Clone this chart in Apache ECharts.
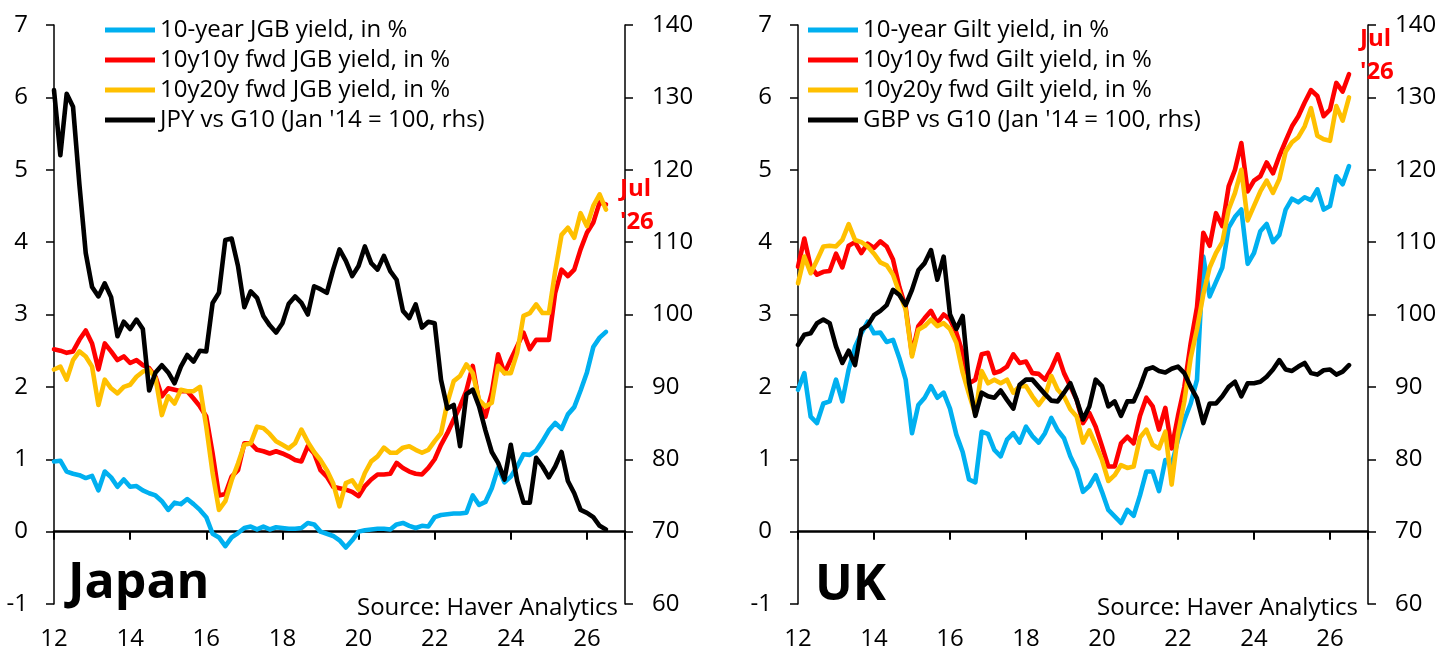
<!DOCTYPE html>
<html><head><meta charset="utf-8">
<script src="https://cdn.jsdelivr.net/npm/echarts@6/dist/echarts.min.js"></script>
<style>html,body{margin:0;padding:0;background:#fff}#c{width:1446px;height:662px}</style>
</head><body><div id="c"></div>
<script>
// bimonthly observation dates
const months = [
 '2012-01','2012-03','2012-05','2012-07','2012-09','2012-11',
 '2013-01','2013-03','2013-05','2013-07','2013-09','2013-11',
 '2014-01','2014-03','2014-05','2014-07','2014-09','2014-11',
 '2015-01','2015-03','2015-05','2015-07','2015-09','2015-11',
 '2016-01','2016-03','2016-05','2016-07','2016-09','2016-11',
 '2017-01','2017-03','2017-05','2017-07','2017-09','2017-11',
 '2018-01','2018-03','2018-05','2018-07','2018-09','2018-11',
 '2019-01','2019-03','2019-05','2019-07','2019-09','2019-11',
 '2020-01','2020-03','2020-05','2020-07','2020-09','2020-11',
 '2021-01','2021-03','2021-05','2021-07','2021-09','2021-11',
 '2022-01','2022-03','2022-05','2022-07','2022-09','2022-11',
 '2023-01','2023-03','2023-05','2023-07','2023-09','2023-11',
 '2024-01','2024-03','2024-05','2024-07','2024-09','2024-11',
 '2025-01','2025-03','2025-05','2025-07','2025-09','2025-11',
 '2026-01','2026-03','2026-05','2026-07'];

// ---- Japan (left panel) ----
const jgb10 = [
 0.97,0.98,0.83,0.80,0.78,0.74, 0.77,0.57,0.83,0.75,0.62,0.72,
 0.62,0.63,0.57,0.53,0.50,0.42, 0.30,0.40,0.38,0.45,0.38,0.30,
 0.20,-0.03,-0.08,-0.20,-0.08,-0.02, 0.05,0.07,0.03,0.07,0.03,0.06,
 0.05,0.04,0.04,0.05,0.12,0.10, 0.00,-0.03,-0.06,-0.12,-0.22,-0.12,
 0.00,0.02,0.03,0.04,0.04,0.03, 0.10,0.12,0.08,0.05,0.08,0.07,
 0.20,0.23,0.24,0.25,0.25,0.26, 0.50,0.37,0.41,0.60,0.88,0.68,
 0.76,0.90,1.07,1.06,1.12,1.25, 1.40,1.50,1.42,1.62,1.72,1.95,
 2.20,2.55,2.68,2.76];
const jgb10y10 = [
 2.52,2.50,2.47,2.49,2.65,2.78, 2.60,2.24,2.60,2.49,2.37,2.42,
 2.33,2.37,2.30,2.26,2.14,1.87, 1.98,1.96,1.94,1.94,1.84,1.73,
 1.59,1.08,0.50,0.52,0.76,0.85, 1.22,1.22,1.13,1.11,1.08,1.11,
 1.08,1.04,0.99,0.97,1.18,1.08, 0.85,0.76,0.62,0.60,0.58,0.55,
 0.49,0.63,0.72,0.79,0.79,0.80, 0.95,0.88,0.83,0.80,0.79,0.88,
 1.00,1.20,1.36,1.55,1.73,1.95, 2.29,1.78,1.59,1.92,2.45,2.19,
 2.38,2.56,2.75,2.52,2.65,2.65, 2.65,3.30,3.62,3.53,3.62,3.90,
 4.13,4.27,4.55,4.52];
const jgb10y20 = [
 2.24,2.28,2.10,2.37,2.49,2.42, 2.28,1.75,2.10,1.98,1.91,2.00,
 2.03,2.14,2.21,2.24,2.12,1.61, 1.87,1.77,1.96,1.94,1.94,2.00,
 1.45,0.81,0.30,0.42,0.71,0.94, 1.20,1.22,1.45,1.43,1.35,1.25,
 1.20,1.15,1.22,1.41,1.24,1.10, 0.99,0.85,0.67,0.35,0.67,0.71,
 0.58,0.81,0.97,1.04,1.16,1.09, 1.09,1.16,1.18,1.13,1.09,1.13,
 1.25,1.36,1.78,2.08,2.15,2.31, 2.19,1.82,1.73,1.78,2.29,2.19,
 2.19,2.47,2.98,3.02,3.14,3.02, 3.02,3.60,4.10,4.20,4.06,4.40,
 4.22,4.50,4.66,4.45];
const jpyG10 = [
 131,122,130.5,128.7,118,108.5, 103.8,102.5,104.3,102.4,97,99,
 98,99.3,98,89.5,92,93, 92,90.5,92.8,94.4,93.5,95,
 94.9,101.6,103,110.3,110.5,106.7, 101,103.2,102.3,99.8,98.5,97.5,
 98.8,101.5,102.5,101.6,100,103.9, 103.5,103,106.2,109,107.4,105.3,
 106.7,109.4,107.1,106.2,108.1,106, 104.8,100.5,99.5,101.4,98.2,99,
 98.8,91,87,87.5,81.8,89, 89.6,87.3,84,81,79.5,77.2,
 82,77,74,74,80.2,79, 77.5,79,81,77,75.3,73,
 72.6,72,70.8,70.3];

// ---- UK (right panel) ----
const gilt10 = [
 1.96,2.19,1.59,1.50,1.77,1.80, 2.10,1.80,2.24,2.55,2.74,2.90,
 2.74,2.75,2.62,2.65,2.40,2.10, 1.36,1.75,1.85,2.01,1.85,1.92,
 1.70,1.34,1.10,0.72,0.68,1.38, 1.35,1.13,1.04,1.27,1.36,1.23,
 1.45,1.32,1.23,1.36,1.57,1.40, 1.29,1.04,0.86,0.55,0.63,0.78,
 0.55,0.30,0.21,0.12,0.30,0.22, 0.50,0.83,0.83,0.56,0.99,0.92,
 1.27,1.54,1.77,2.10,3.80,3.25, 3.45,3.65,4.20,4.35,4.45,3.70,
 3.85,4.15,4.25,4.00,4.10,4.45, 4.60,4.55,4.62,4.58,4.73,4.45,
 4.50,4.91,4.80,5.05];
const gilt10y10 = [
 3.66,4.05,3.66,3.55,3.59,3.60, 3.84,3.65,3.95,4.00,3.85,3.98,
 3.92,4.01,3.94,3.76,3.38,3.10, 2.45,2.84,2.95,3.05,2.88,3.00,
 2.93,2.75,2.47,2.05,2.10,2.45, 2.47,2.19,2.22,2.28,2.45,2.33,
 2.35,2.19,2.18,2.10,2.25,2.45, 2.19,2.01,1.82,1.50,1.64,1.45,
 1.18,0.90,0.90,1.22,1.31,1.22, 1.60,1.85,1.73,1.41,1.71,1.15,
 1.60,2.00,2.60,3.10,4.13,3.95, 4.40,4.22,4.77,5.00,5.37,4.70,
 4.85,4.91,5.10,4.95,5.19,5.40, 5.60,5.74,5.93,6.10,6.02,5.74,
 5.83,6.20,6.08,6.32];
const gilt10y20 = [
 3.43,3.80,3.57,3.75,3.94,3.95, 3.94,4.03,4.25,4.03,4.00,3.94,
 3.84,3.72,3.68,3.55,3.30,3.07, 2.42,2.79,2.84,2.93,2.84,2.88,
 2.80,2.61,2.20,1.90,1.62,2.22, 2.05,2.10,2.05,2.10,1.92,2.01,
 2.01,1.87,1.75,1.87,2.15,1.96, 1.87,1.69,1.59,1.23,1.40,1.20,
 0.99,0.70,0.78,0.92,0.88,0.90, 1.30,1.41,1.20,1.15,1.38,0.65,
 1.35,1.80,2.40,2.80,3.28,3.65, 3.85,4.00,4.45,4.68,5.00,4.30,
 4.50,4.70,4.85,4.68,4.87,5.25, 5.38,5.45,5.60,5.85,5.47,5.42,
 5.40,5.88,5.68,6.00];
const gbpG10 = [
 95.8,97.2,97.4,98.8,99.3,98.8, 95.6,93.3,95.0,93.0,97.9,98.5,
 99.9,100.5,101.3,103.4,102.7,101.3, 103.4,106.1,107.1,108.9,104.8,108.0,
 100.0,98.0,99.8,90.6,86.0,89.2, 88.7,88.5,89.5,88.2,87.0,90.3,
 91.0,91.0,90.0,89.0,88.1,88.0, 89.2,90.5,88.2,85.5,87.3,91.0,
 90.1,87.3,88.0,86.0,88.0,88.0, 90.0,92.4,92.7,92.2,92.0,92.5,
 92.8,91.9,90.0,88.4,85.0,87.7, 87.7,88.7,90.0,90.7,88.7,90.5,
 90.5,90.7,91.4,92.4,93.7,92.4, 92.2,92.8,93.3,91.9,91.7,92.3,
 92.4,91.7,92.1,93.0];

const leftNames = ['10-year JGB yield, in %','10y10y fwd JGB yield, in %','10y20y fwd JGB yield, in %',"JPY vs G10 (Jan '14 = 100, rhs)"];
const rightNames = ['10-year Gilt yield, in %','10y10y fwd Gilt yield, in %','10y20y fwd Gilt yield, in %',"GBP vs G10 (Jan '14 = 100, rhs)"];
const colors = ['#00B0F0','#FF0000','#FFC000','#000000'];

const FONT = '"Open Sans", sans-serif';
function toYear(s){ const p = s.split('-'); return +p[0] + (+p[1]-1)/12; }
function pairs(vals){ return months.map((m,i)=>[toYear(m), vals[i]]); }

function xAxes(gi){
  return [
    {gridIndex:gi, type:'value', min:2012, max:2027, interval:2, position:'bottom',
     axisLine:{show:true, onZero:true, lineStyle:{color:'#000', width:2.5}},
     axisTick:{show:true, length:8, lineStyle:{color:'#000', width:2}},
     axisLabel:{show:false}, splitLine:{show:false}},
    {gridIndex:gi, type:'value', min:2012, max:2027, interval:2, position:'bottom',
     axisLine:{show:false, onZero:false}, axisTick:{show:false}, splitLine:{show:false},
     axisLabel:{show:true, margin:23, fontSize:24, color:'#000', fontFamily:FONT, showMaxLabel:false,
       formatter:v=> v>=2027 ? '' : String(v-2000)}}
  ];
}
function yAxes(gi){
  return [
    {gridIndex:gi, type:'value', min:-1, max:7, interval:1, position:'left',
     axisLine:{show:true, onZero:false, lineStyle:{color:'#000', width:1.5}},
     axisTick:{show:true, length:8, lineStyle:{color:'#000', width:1.5}},
     axisLabel:{margin:26, fontSize:24, color:'#000', fontFamily:FONT}, splitLine:{show:false}},
    {gridIndex:gi, type:'value', min:60, max:140, interval:10, position:'right',
     axisLine:{show:true, onZero:false, lineStyle:{color:'#000', width:1.5}},
     axisTick:{show:true, length:8, lineStyle:{color:'#000', width:1.5}},
     axisLabel:{margin:27, fontSize:24, color:'#000', fontFamily:FONT}, splitLine:{show:false}}
  ];
}
function ser(name, vals, color, xi, yi, z){
  return {name, type:'line', xAxisIndex:xi, yAxisIndex:yi, data:pairs(vals), symbol:'none', showSymbol:false,
    lineStyle:{color, width:4.6, join:'round', cap:'round'}, itemStyle:{color}, z, animation:false, clip:true};
}
function legend(names, left){
  return {data:names, orient:'vertical', left, top:13, itemWidth:50, itemHeight:5, icon:'rect', itemGap:6,
    selectedMode:false, textStyle:{fontSize:24, fontFamily:FONT, color:'#000', lineHeight:24}};
}
function txt(x, y, text, size, color, bold, align){
  return {type:'text', x, y, z:100, style:{text, fontSize:size, fontFamily:FONT, fontWeight:bold?'bold':'normal',
    fill:color, align:align||'left', verticalAlign:'middle'}};
}

const chart = echarts.init(document.getElementById('c'), null, {renderer:'canvas'});
chart.setOption({
  backgroundColor:'#fff',
  animation:false,
  grid:[
    {left:54, top:25, width:571, height:579, containLabel:false},
    {left:798, top:25, width:570, height:579, containLabel:false}
  ],
  xAxis:[...xAxes(0), ...xAxes(1)],
  yAxis:[...yAxes(0), ...yAxes(1)],
  legend:[legend(leftNames, 100), legend(rightNames, 803)],
  series:[
    ser(leftNames[0], jgb10, colors[0], 0, 0, 2),
    ser(leftNames[1], jgb10y10, colors[1], 0, 0, 3),
    ser(leftNames[2], jgb10y20, colors[2], 0, 0, 4),
    ser(leftNames[3], jpyG10, colors[3], 0, 1, 5),
    ser(rightNames[0], gilt10, colors[0], 2, 2, 2),
    ser(rightNames[1], gilt10y10, colors[1], 2, 2, 3),
    ser(rightNames[2], gilt10y20, colors[2], 2, 2, 4),
    ser(rightNames[3], gbpG10, colors[3], 2, 3, 5)
  ],
  graphic:[
    txt(68, 584, 'Japan', 50, '#000', true),
    txt(815, 586, 'UK', 50, '#000', true),
    txt(618, 608, 'Source: Haver Analytics', 24, '#000', false, 'right'),
    txt(1358, 608, 'Source: Haver Analytics', 24, '#000', false, 'right'),
    txt(620, 189, 'Jul', 24, '#FF0000', true),
    txt(620, 222, "'26", 24, '#FF0000', true),
    txt(1360, 39, 'Jul', 24, '#FF0000', true),
    txt(1360, 72, "'26", 24, '#FF0000', true)
  ]
});
</script></body></html>
